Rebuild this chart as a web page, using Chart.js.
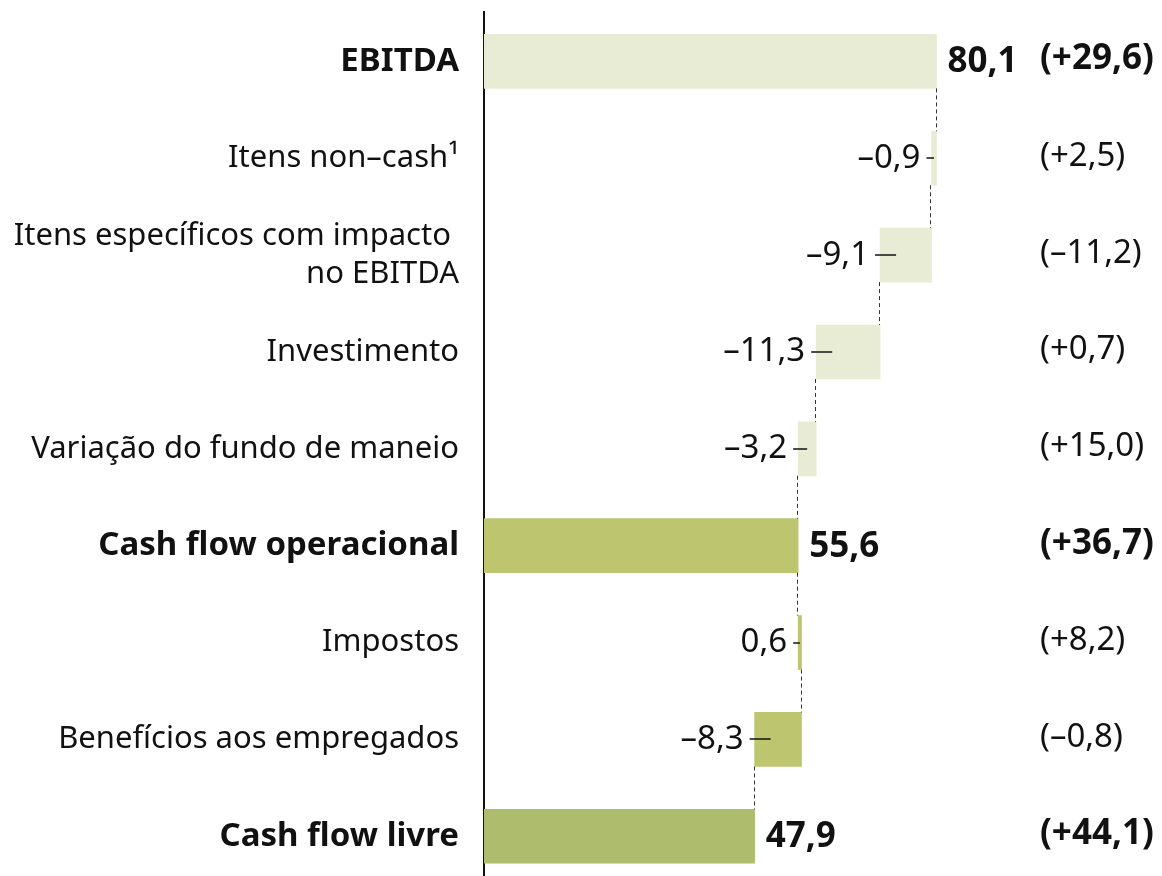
<!DOCTYPE html>
<html lang="pt">
<head>
<meta charset="utf-8">
<title>Cash flow</title>
<script src="https://cdn.jsdelivr.net/npm/chart.js@4/dist/chart.umd.min.js"></script>
<style>
  html, body { margin: 0; padding: 0; background: #fff; }
  #wrap { width: 1162px; height: 876px; }
</style>
</head>
<body>
<div id="wrap"><canvas id="cashFlowChart" width="1162" height="876"></canvas></div>
<script>
// Dados (milhões de euros)
const categorias = [
    'EBITDA',
    'Itens non–cash¹',
    ['Itens específicos com impacto ', 'no EBITDA'],
    'Investimento',
    'Variação do fundo de maneio',
    'Cash flow operacional',
    'Impostos',
    'Benefícios aos empregados',
    'Cash flow livre'
];
const valores = [80.1, -0.9, -9.1, -11.3, -3.2, 55.6, 0.6, -8.3, 47.9];
const totais = [true, false, false, false, false, true, false, false, true];
const variacoes = [29.6, 2.5, -11.2, 0.7, 15.0, 36.7, 8.2, -0.8, 44.1];

const FONTE = '"Noto Sans", "Open Sans", sans-serif';
const COR_TEXTO = '#111';
const COR_CLARA = '#e9ecd5';
const COR_ESCURA = '#bdc56e';
const COR_LIVRE = '#adbd6d';

function fmt(v, sinal) {
    const s = Math.abs(v).toFixed(1).replace('.', ',');
    if (v < 0) return '–' + s;
    return sinal ? '+' + s : s;
}

// Barras flutuantes: totais partem de zero, variações do acumulado
let acumulado = 0;
const barras = valores.map((v, i) => {
    let ini, fim;
    if (totais[i]) { ini = 0; fim = v; acumulado = v; }
    else { ini = acumulado; fim = acumulado + v; acumulado = fim; }
    return { x: [ini, fim], y: i };
});

function corBarra(i) {
    if (i < 5) return COR_CLARA;
    if (i === 8) return COR_LIVRE;
    return COR_ESCURA;
}

// Rótulos de valores, ligações tracejadas e coluna de variações
const rotulosPlugin = {
    id: 'rotulosWaterfall',
    afterDatasetsDraw(chart) {
        const { ctx, scales: { x, y } } = chart;
        const meio = 27;
        ctx.save();

        // linhas tracejadas entre barras
        ctx.strokeStyle = '#333';
        ctx.lineWidth = 1;
        ctx.setLineDash([4, 3]);
        for (let i = 0; i < barras.length - 1; i++) {
            const xp = Math.round(x.getPixelForValue(barras[i].x[1])) - 0.5;
            ctx.beginPath();
            ctx.moveTo(xp, y.getPixelForValue(i) + meio);
            ctx.lineTo(xp, y.getPixelForValue(i + 1) - meio);
            ctx.stroke();
        }
        ctx.setLineDash([]);

        ctx.fillStyle = COR_TEXTO;
        ctx.textBaseline = 'middle';
        barras.forEach((b, i) => {
            const yc = y.getPixelForValue(i);
            const x0 = x.getPixelForValue(Math.min(b.x[0], b.x[1]));
            const x1 = x.getPixelForValue(Math.max(b.x[0], b.x[1]));
            if (totais[i]) {
                ctx.font = 'bold 35px ' + FONTE;
                ctx.textAlign = 'left';
                ctx.fillText(fmt(valores[i]), x1 + 11, yc + 1);
            } else {
                // pequeno traço a ligar o rótulo à barra
                ctx.strokeStyle = COR_TEXTO;
                ctx.lineWidth = 1.5;
                ctx.beginPath();
                ctx.moveTo(x0 - 5, Math.round(yc));
                ctx.lineTo(Math.min(x0 + 16, (x0 + x1) / 2), Math.round(yc));
                ctx.stroke();
                ctx.font = '33px ' + FONTE;
                ctx.textAlign = 'right';
                ctx.fillText(fmt(valores[i]), x0 - 11, yc);
            }
            ctx.font = totais[i] ? 'bold 35px ' + FONTE : '33px ' + FONTE;
            ctx.textAlign = 'left';
            ctx.fillText('(' + fmt(variacoes[i], true) + ')', 1040, yc - 2);
        });
        ctx.restore();
    }
};

const ctx = document.getElementById('cashFlowChart').getContext('2d');
new Chart(ctx, {
    type: 'bar',
    data: {
        datasets: [{
            data: barras,
            backgroundColor: barras.map((_, i) => corBarra(i)),
            borderWidth: 0,
            barThickness: 54
        }]
    },
    options: {
        indexAxis: 'y',
        responsive: false,
        animation: false,
        layout: { padding: { top: 12, left: 0, right: 0, bottom: 0 } },
        plugins: {
            legend: { display: false },
            tooltip: { enabled: false }
        },
        scales: {
            x: {
                type: 'linear',
                min: 0,
                max: 120,
                display: false
            },
            y: {
                type: 'linear',
                reverse: true,
                offset: false,
                bounds: 'data',
                min: -0.51,
                max: 8.41,
                afterFit: s => {
                    s.width = 484;
                    s.paddingTop = 0;
                    s.paddingBottom = 0;
                },
                afterBuildTicks: s => { s.ticks = categorias.map((_, i) => ({ value: i })); },
                grid: { display: false, drawTicks: false },
                border: { display: true, color: COR_TEXTO, width: 2 },
                ticks: {
                    padding: 25,
                    color: COR_TEXTO,
                    autoSkip: false,
                    callback: v => categorias[v],
                    font: c => ({
                        family: FONTE,
                        size: totais[c.index] ? 33 : 31,
                        weight: totais[c.index] ? 'bold' : 'normal',
                        lineHeight: 1.24
                    })
                }
            }
        }
    },
    plugins: [rotulosPlugin]
});
</script>
</body>
</html>
